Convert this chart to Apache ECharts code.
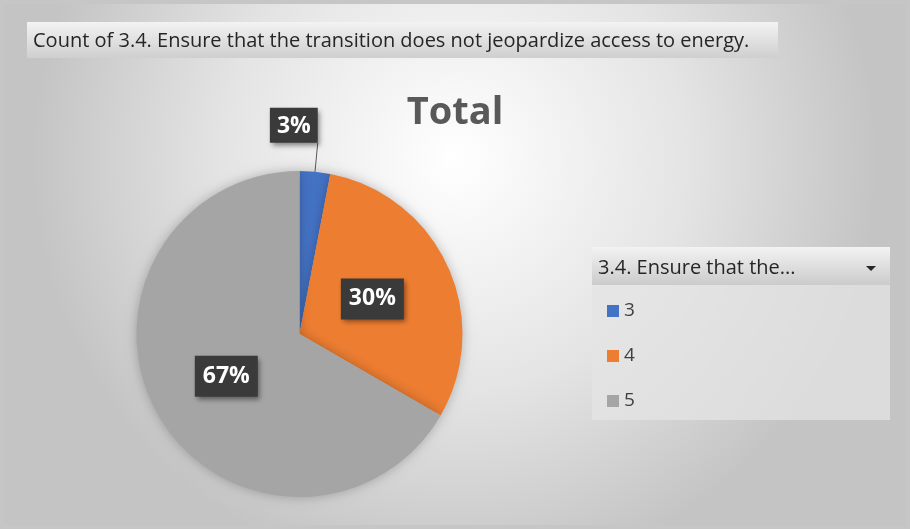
<!DOCTYPE html>
<html>
<head>
<meta charset="utf-8">
<script src="https://cdn.jsdelivr.net/npm/echarts@6/dist/echarts.min.js"></script>
<style>html,body{margin:0;padding:0;background:#fff}#c{width:910px;height:529px}</style>
</head>
<body>
<div id="c"></div>
<script>
const categories = ['3', '4', '5'];
const counts = [1, 10, 22];
const colors = ['#4472C4', '#ED7D31', '#A5A5A5'];
const titleText = 'Total';
const fieldButtonText = 'Count of 3.4. Ensure that the transition does not jeopardize access to energy.';
const legendHeaderText = '3.4. Ensure that the...';

const chart = echarts.init(document.getElementById('c'));
const FONT = '"Open Sans", "Noto Sans", sans-serif';

const data = categories.map((c, i) => ({
  name: c,
  value: counts[i],
  itemStyle: { color: colors[i] },
  label: i === 0 ? { position: 'outside', padding: [7, 7, 5, 7], distanceToLabelLine: 0 } : { position: 'inside', padding: [10, 8, 8, 8] },
  labelLine: i === 0 ? { show: true } : { show: false }
}));

chart.setOption({
  backgroundColor: {
    type: 'radial', x: 0.5, y: 0.3, r: 0.8,
    colorStops: [{ offset: 0, color: '#ffffff' }, { offset: 0.55, color: '#e4e4e4' }, { offset: 1, color: '#c4c4c4' }]
  },
  title: {
    text: titleText, left: 'center', top: 89,
    textStyle: { fontSize: 38, fontWeight: 'bold', color: '#595959', fontFamily: FONT }
  },
  legend: {
    orient: 'vertical', left: 602, top: 296,
    icon: 'rect', itemWidth: 12, itemHeight: 12, itemGap: 25,
    data: categories,
    textStyle: { fontSize: 19, lineHeight: 20, color: '#404040', fontFamily: FONT }
  },
  graphic: [
    { type: 'rect', shape: { x: 0, y: 0, width: 910, height: 529 }, style: { fill: 'none', stroke: '#c6c6c6', lineWidth: 8 }, silent: true, z: -1 },
    { type: 'rect', shape: { x: 27, y: 22, width: 751, height: 36 },
      style: { fill: { type: 'linear', x: 0, y: 0, x2: 0, y2: 1, colorStops: [{ offset: 0, color: '#f3f3f3' }, { offset: 1, color: '#cfcfcf' }] } }, z: 1 },
    { type: 'text', x: 33, y: 41, style: { text: fieldButtonText, fontSize: 20, fontFamily: FONT, fill: '#262626', verticalAlign: 'middle' }, z: 2 },
    { type: 'rect', shape: { x: 592, y: 285, width: 298, height: 135 }, style: { fill: 'rgba(228,228,228,0.75)' }, z: 1 },
    { type: 'rect', shape: { x: 592, y: 247, width: 298, height: 38 },
      style: { fill: { type: 'linear', x: 0, y: 0, x2: 0, y2: 1, colorStops: [{ offset: 0, color: '#f3f3f3' }, { offset: 1, color: '#cbcbcb' }] } }, z: 1 },
    { type: 'text', x: 598, y: 268, style: { text: legendHeaderText, fontSize: 20, fontFamily: FONT, fill: '#262626', verticalAlign: 'middle' }, z: 2 },
    { type: 'polygon', shape: { points: [[866, 266], [876, 266], [871, 271]] }, style: { fill: '#262626' }, z: 2 }
  ],
  series: [{
    type: 'pie',
    center: [299.5, 334],
    radius: 163,
    startAngle: 90,
    clockwise: true,
    avoidLabelOverlap: false,
    data: data,
    itemStyle: { shadowBlur: 12, shadowColor: 'rgba(0,0,0,0.25)' },
    emphasis: { disabled: true },
    label: {
      show: true,
      formatter: p => Math.round(p.percent) + '%',
      color: '#ffffff', fontSize: 23, fontWeight: 'bold', fontFamily: FONT,
      backgroundColor: '#3a3a3a',
      shadowBlur: 5, shadowOffsetX: 2, shadowOffsetY: 3, shadowColor: 'rgba(0,0,0,0.45)'
    },
    labelLine: { length: 29, length2: 0, lineStyle: { color: '#595959', width: 1 } },
    labelLayout: function (p) {
      if (p.dataIndex === 0) return { align: 'right', verticalAlign: 'bottom' };
      if (p.dataIndex === 1) return { dx: -4 };
      return {};
    }
  }]
});
</script>
</body>
</html>
